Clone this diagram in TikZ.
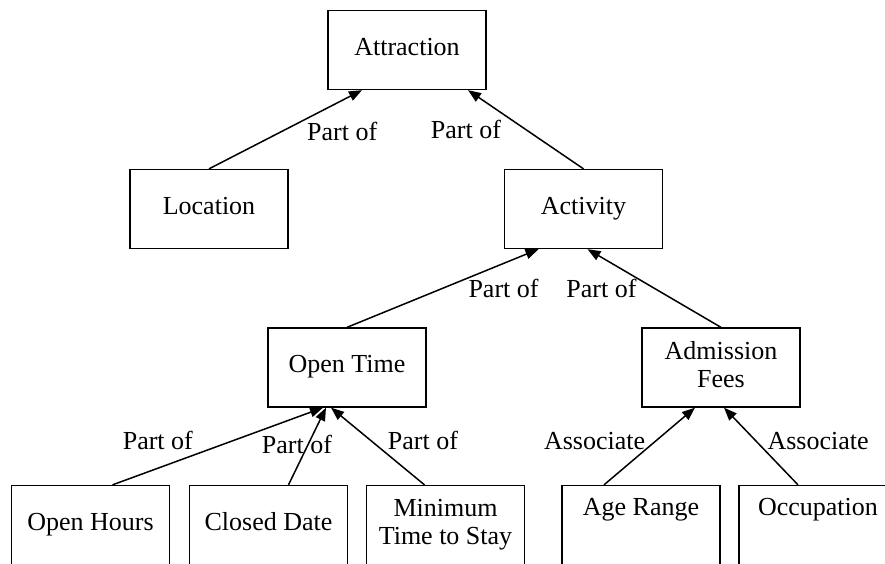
\documentclass[tikz,border=0pt]{standalone}
\usepackage{fontspec}
\setmainfont{Liberation Serif}
\usetikzlibrary{arrows.meta}

\newcommand\boxstrut{\rule[-6.5pt]{0pt}{22.5pt}}

\begin{document}
\begin{tikzpicture}[x=1pt,y=-1pt,
		every node/.style={font=\fontsize{26}{28}\selectfont},
		concept/.style={draw,line width=1.3pt,minimum width=158pt,minimum height=79pt,align=center,inner sep=0pt,
			execute at begin node=\boxstrut},
		rel/.style={-{Triangle[length=13pt,width=10pt]},line width=1.5pt},
		lbl/.style={inner sep=0pt}]
	\useasboundingbox (0,0) rectangle (885,563);

	% concepts
	\node[concept] (attr) at (407,50) {Attraction};
	\node[concept] (loc) at (209,209) {Location};
	\node[concept] (act) at (583.5,209) {Activity};
	\node[concept] (otime) at (347,367.5) {Open Time};
	\node[concept] (afees) at (721,367.5) {Admission\\Fees};

	\node[concept] (ohours) at (90.5,525) {Open Hours};
	\node[concept] (cdate) at (268.5,525) {Closed Date};
	\node[concept] (mstay) at (445.5,525) {Minimum\\Time to Stay};
	\node[concept] (arange) at (641,525) {Age Range\\\strut};
	\node[concept] (occ) at (818,525) {Occupation\\\strut};

	% relations
	\draw[rel] (loc.north) -- ([xshift=-45pt]attr.south)
		node[lbl,pos=.48,right=24pt] {Part of};
	\draw[rel] (act.north) -- ([xshift=61pt]attr.south)
		node[lbl,pos=.5,left=24pt] {Part of};

	\draw[rel] (otime.north) -- ([xshift=-45pt]act.south)
		node[lbl,pos=.5,right=25pt] {Part of};
	\draw[rel] (afees.north) -- ([xshift=4pt]act.south)
		node[lbl,pos=.5,left=17pt] {Part of};

	\draw[rel] ([xshift=22pt]ohours.north) -- ([xshift=-24pt]otime.south)
		node[lbl,pos=.58,left=41pt] {Part of};
	\draw[rel] ([xshift=20pt]cdate.north) -- ([xshift=-21pt]otime.south)
		node[lbl,pos=.52,xshift=-11pt] {Part of};
	\draw[rel] ([xshift=-21pt]mstay.north) -- ([xshift=-16pt]otime.south)
		node[lbl,pos=.57,right=16pt] {Part of};

	\draw[rel] ([xshift=-37pt]arange.north) -- ([xshift=-26pt]afees.south)
		node[lbl,pos=.57,left=10pt] {Associate};
	\draw[rel] ([xshift=-20pt]occ.north) -- ([xshift=3pt]afees.south)
		node[lbl,pos=.57,right=11pt] {Associate};

\end{tikzpicture}
\end{document}
